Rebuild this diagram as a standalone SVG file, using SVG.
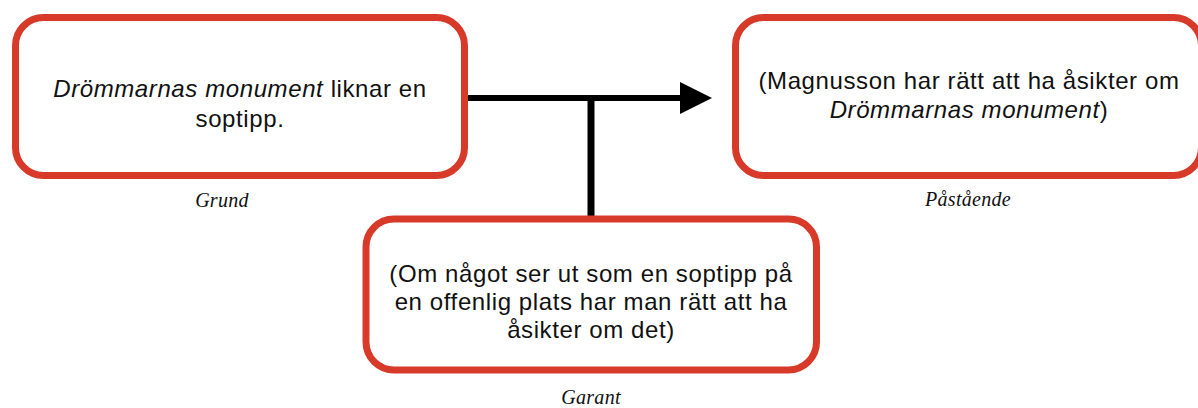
<svg xmlns="http://www.w3.org/2000/svg" width="1198" height="408" viewBox="0 0 1198 408">
  <style>
    .box { fill: #ffffff; stroke: #D83A2A; stroke-width: 7; }
    .txt { font-family: "Liberation Sans", Arial, Helvetica, sans-serif; font-size: 24px; letter-spacing: 0.6px; fill: #111111; text-anchor: middle; }
    .lbl { font-family: "Liberation Serif", "Times New Roman", serif; font-style: italic; font-size: 20px; letter-spacing: 0.3px; fill: #111111; text-anchor: middle; }
    .conn { stroke: #000000; fill: none; }
  </style>
  <rect width="1198" height="408" fill="#ffffff"/>
  <g id="connectors">
    <line class="conn" x1="466" y1="98" x2="684" y2="98" stroke-width="6"/>
    <polygon points="680,82 712,98 680,114" fill="#000000"/>
    <line class="conn" x1="591" y1="98" x2="591" y2="216" stroke-width="7"/>
  </g>
  <g id="grund">
    <rect class="box" x="15.5" y="17.5" width="449" height="158" rx="28"/>
    <text class="txt" x="240" y="97"><tspan font-style="italic">Drömmarnas monument</tspan> liknar en</text>
    <text class="txt" x="240" y="127">soptipp.</text>
    <text class="lbl" x="222" y="207">Grund</text>
  </g>
  <g id="pastaende">
    <rect class="box" x="735.5" y="17.5" width="466" height="158" rx="28"/>
    <text class="txt" x="969" y="89">(Magnusson har rätt att ha åsikter om</text>
    <text class="txt" x="969" y="118"><tspan font-style="italic">Drömmarnas monument</tspan>)</text>
    <text class="lbl" x="968" y="206">Påstående</text>
  </g>
  <g id="garant">
    <rect class="box" x="366" y="219" width="450.5" height="151" rx="28"/>
    <text class="txt" x="591" y="282">(Om något ser ut som en soptipp på</text>
    <text class="txt" x="591" y="310">en offenlig plats har man rätt att ha</text>
    <text class="txt" x="591" y="338">åsikter om det)</text>
    <text class="lbl" x="591" y="404">Garant</text>
  </g>
</svg>
